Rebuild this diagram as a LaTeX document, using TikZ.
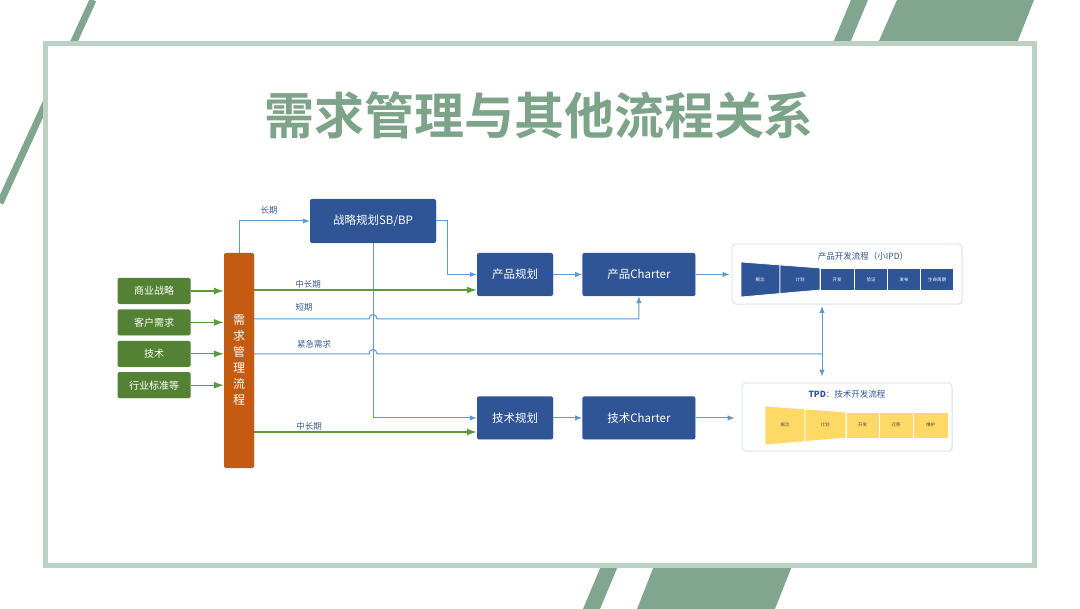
\documentclass[tikz,border=0pt]{standalone}
\usepackage{fontspec}
\setmainfont{Noto Sans CJK SC}
\newfontfamily\cjkbold{Noto Sans CJK SC Bold}
\usepackage{tikz}
\usetikzlibrary{arrows.meta,positioning,shadows}
\usepackage{xcolor}
\definecolor{sage}{HTML}{82A590}
\definecolor{titlegreen}{HTML}{7DA489}
\definecolor{framegreen}{HTML}{BCD0C3}
\definecolor{navy}{HTML}{2F5597}
\definecolor{rust}{HTML}{C55A11}
\definecolor{ingreen}{HTML}{548235}
\definecolor{lineblue}{HTML}{5B9BD5}
\definecolor{linegreen}{HTML}{5E9A3A}
\definecolor{gold}{HTML}{FFD966}
\definecolor{paleblue}{HTML}{D6E0F0}
\definecolor{lblblue}{HTML}{3F5E98}

\begin{document}
\begin{tikzpicture}[x=1pt, y=-1pt, every node/.style={font=\fontsize{9}{9}\selectfont}]
\tikzset{inbox/.style={fill=ingreen, text=white, rounded corners=1.5pt, minimum width=73pt, minimum height=26pt, inner sep=0pt, font=\fontsize{10}{10}\selectfont, drop shadow={opacity=0.12, shadow xshift=0.8pt, shadow yshift=-0.8pt}}}
\tikzset{bluebox/.style={fill=navy, text=white, rounded corners=2pt, minimum height=43pt, inner sep=0pt, font=\fontsize{11.5}{11.5}\selectfont, drop shadow={opacity=0.12, shadow xshift=0.8pt, shadow yshift=-0.8pt}}}
\tikzset{flowbox/.style={draw=paleblue, line width=0.8pt, fill=white, rounded corners=4pt, inner sep=0pt, drop shadow={opacity=0.10, shadow xshift=1pt, shadow yshift=-1pt}}}
\tikzset{lbl/.style={text=lblblue, inner sep=0.5pt, font=\fontsize{8.5}{8.5}\selectfont}}
\tikzset{stg/.style={inner sep=0pt, font=\fontsize{4.5}{4.5}\selectfont}}
\tikzset{barrow/.style={draw=lineblue, line width=1pt, -{Latex[length=7pt,width=5.5pt]}}}
\tikzset{bline/.style={draw=lineblue, line width=1pt}}
\tikzset{garrow/.style={draw=linegreen, line width=1.1pt, -{Latex[length=10pt,width=7pt]}}}
\useasboundingbox (0,0) rectangle (1080,609);
\clip (0,0) rectangle (1080,609);
% stripes and frame
\draw[sage, line width=7pt] (93,0) -- (0,203);
\fill[sage] (851,0) -- (868,0) -- (850,43) -- (833,43) -- cycle;
\fill[sage] (897,0) -- (1034,0) -- (1017,43) -- (878,43) -- cycle;
\fill[sage] (601,566) -- (618,566) -- (600,609) -- (583,609) -- cycle;
\fill[sage] (654,566) -- (792,566) -- (775,609) -- (637,609) -- cycle;
\draw[framegreen, line width=5pt, fill=white] (45.5,43.5) rectangle (1034.5,566);
\node[text=titlegreen, font=\cjkbold\fontsize{50}{50}\selectfont] (title) at (539,115) {需求管理与其他流程关系};

% inputs and management
\node[inbox] (biz) at (154,291) {商业战略};
\node[inbox, below=5pt of biz] (cust) {客户需求};
\node[inbox, below=5pt of cust] (tech) {技术};
\node[inbox, below=5pt of tech] (std) {行业标准等};
\node[fill=rust, text=white, minimum width=30pt, minimum height=215pt, inner sep=0pt, rounded corners=1.5pt, align=center, font=\fontsize{12}{16}\selectfont, drop shadow={opacity=0.12, shadow xshift=0.8pt, shadow yshift=-0.8pt}] (mgmt) at (239,360.5) {需\\求\\管\\理\\流\\程};

% planning boxes
\node[bluebox, minimum width=126pt, minimum height=44pt] (strat) at (373,221) {战略规划SB/BP};
\node[bluebox, minimum width=76pt] (prodplan) at (515,274.5) {产品规划};
\node[bluebox, minimum width=113pt, right=29pt of prodplan] (prodch) {产品Charter};
\node[bluebox, minimum width=76pt, below=100pt of prodplan] (techplan) {技术规划};
\node[bluebox, minimum width=113pt, right=29pt of techplan] (techch) {技术Charter};

% IPD flow
\node[flowbox, minimum width=230pt, minimum height=60pt] (ipd) at (847,274) {};
\node[text=navy, inner sep=0pt, font=\fontsize{8.5}{8.5}\selectfont] (ipdtitle) at (863,256) {产品开发流程（小IPD）};
\begin{scope}[fill=navy, draw=white, line width=0.7pt]
\filldraw (741,262) -- (780,265) -- (780,293.5) -- (741,297) -- cycle;
\filldraw (780,265) -- (820,268) -- (820,290) -- (780,293.5) -- cycle;
\filldraw (820,268) rectangle (854,290);
\filldraw (854,268) rectangle (887.5,290);
\filldraw (887.5,268) rectangle (920.5,290);
\filldraw (920.5,268) rectangle (953.5,290);
\end{scope}
\foreach \x/\t/\n in {760/概念/i1, 800/计划/i2, 837/开发/i3, 871/验证/i4, 904/发布/i5, 937/生命周期/i6}
  \node[stg, text=white] (\n) at (\x,279.5) {\t};

% TPD flow
\node[flowbox, minimum width=210pt, minimum height=68pt] (tpd) at (847,417) {};
\node[text=navy, inner sep=0pt, font=\fontsize{8.5}{8.5}\selectfont] (tpdtitle) at (847,394.5) {\textbf{TPD}：技术开发流程};
\begin{scope}[fill=gold, draw=white, line width=0.7pt]
\filldraw (765,406) -- (805,409) -- (805,441.5) -- (765,445) -- cycle;
\filldraw (805,409) -- (846,412) -- (846,438) -- (805,441.5) -- cycle;
\filldraw (846,412) rectangle (879,438);
\filldraw (879,412) rectangle (913,438);
\filldraw (913,412) rectangle (948,438);
\end{scope}
\foreach \x/\t/\n in {785/概念/t1, 825/计划/t2, 862.5/开发/t3, 896/迁移/t4, 930.5/维护/t5}
  \node[stg, text=black!70] (\n) at (\x,425) {\t};

% connectors
\foreach \n in {biz,cust,tech,std}
  \draw[garrow] (\n) -- (\n -| mgmt.west);
\draw[barrow] (mgmt.north) |- (strat.west);
\node[lbl] (llong) at (269,210) {长期};
\draw[barrow] (strat.east) -- ++(11,0) |- (prodplan.west);
\draw[barrow] (strat.south) |- (techplan.west);
\draw[barrow] (prodplan) -- (prodch);
\draw[barrow] (techplan) -- (techch);
\draw[barrow, shorten >=2pt] (prodch) -- (prodch -| ipd.west);
\draw[barrow, shorten >=7pt] (techch) -- (techch -| tpd.west);
\draw[garrow] (mgmt.east |- 0,290) -- (prodplan.west |- 0,290);
\node[lbl] (lmid1) at (308,284.5) {中长期};
\draw[barrow] (mgmt.east |- 0,319) -- (369,319) .. controls (369,313) and (377,313) .. (377,319) -| (prodch.south);
\node[lbl] (lshort) at (304,307) {短期};
\coordinate (urg) at (822,354);
\draw[bline] (mgmt.east |- 0,354) -- (369,354) .. controls (369,348) and (377,348) .. (377,354) -- (urg);
\node[lbl] (lurg) at (314,344) {紧急需求};
\draw[barrow, {Latex[length=7pt,width=5.5pt]}-{Latex[length=7pt,width=5.5pt]}, shorten <=1.5pt, shorten >=6pt] (urg |- ipd.south) -- (urg |- tpd.north);
\draw[garrow] (mgmt.east |- 0,432) -- (techplan.west |- 0,432);
\node[lbl] (lmid2) at (309,426) {中长期};
\end{tikzpicture}
\end{document}
